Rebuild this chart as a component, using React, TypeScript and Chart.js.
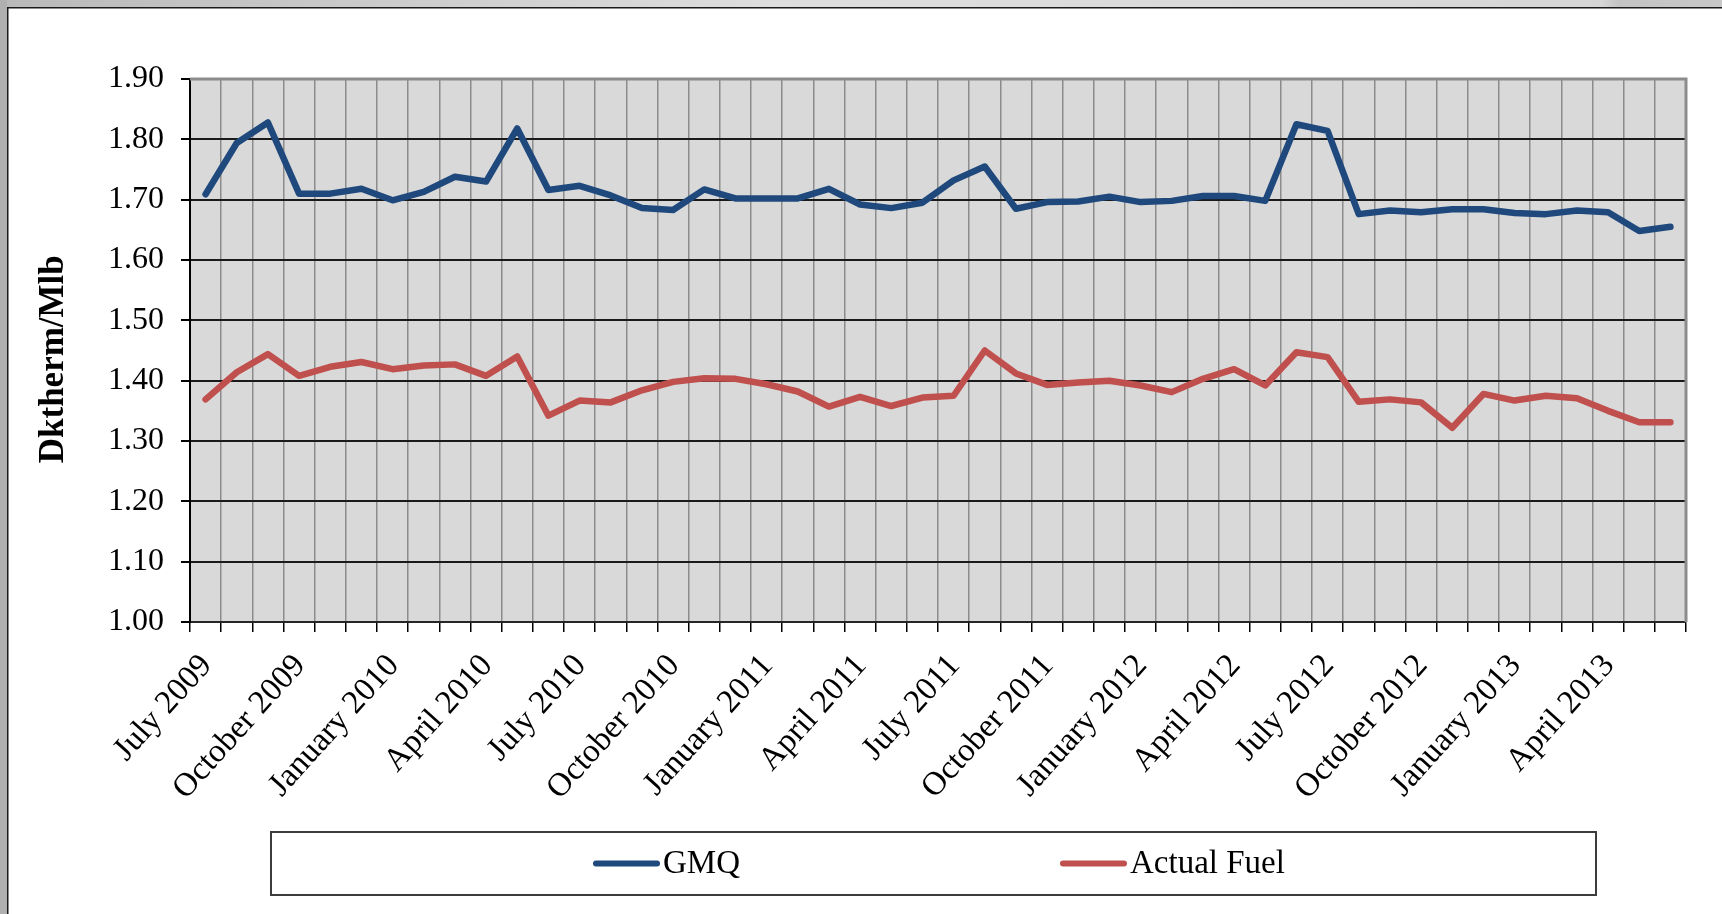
import React, { useEffect, useRef } from "react";
import { Chart, registerables } from "chart.js";

Chart.register(...registerables);

const categories = [
  "July 2009", "August 2009", "September 2009", "October 2009", "November 2009", "December 2009",
  "January 2010", "February 2010", "March 2010", "April 2010", "May 2010", "June 2010",
  "July 2010", "August 2010", "September 2010", "October 2010", "November 2010", "December 2010",
  "January 2011", "February 2011", "March 2011", "April 2011", "May 2011", "June 2011",
  "July 2011", "August 2011", "September 2011", "October 2011", "November 2011", "December 2011",
  "January 2012", "February 2012", "March 2012", "April 2012", "May 2012", "June 2012",
  "July 2012", "August 2012", "September 2012", "October 2012", "November 2012", "December 2012",
  "January 2013", "February 2013", "March 2013", "April 2013", "May 2013", "June 2013",
];

const gmq = [
  1.709, 1.794, 1.828, 1.710, 1.710, 1.718, 1.699, 1.713, 1.738, 1.730, 1.818, 1.716,
  1.723, 1.707, 1.686, 1.683, 1.717, 1.702, 1.702, 1.702, 1.718, 1.692, 1.686, 1.695,
  1.732, 1.755, 1.685, 1.696, 1.697, 1.705, 1.696, 1.698, 1.706, 1.706, 1.698, 1.825,
  1.814, 1.676, 1.682, 1.679, 1.684, 1.684, 1.678, 1.676, 1.682, 1.679, 1.648, 1.655,
];

const actualFuel = [
  1.369, 1.414, 1.444, 1.408, 1.423, 1.431, 1.419, 1.425, 1.427, 1.408, 1.440, 1.342,
  1.367, 1.364, 1.384, 1.398, 1.404, 1.403, 1.394, 1.382, 1.357, 1.373, 1.358, 1.372,
  1.375, 1.450, 1.412, 1.393, 1.397, 1.400, 1.392, 1.381, 1.403, 1.419, 1.392, 1.447,
  1.439, 1.365, 1.369, 1.364, 1.322, 1.378, 1.367, 1.375, 1.371, 1.350, 1.331, 1.331,
];

const seriesNames = ["GMQ", "Actual Fuel"];
const seriesColors = ["#1f497d", "#c0504d"];
const yMin = 1.0;
const yMax = 1.9;
const yStep = 0.1;
const labelEvery = 3;
const yTitle = "Dktherm/Mlb  ";

const W = 1722;
const H = 914;
const FONT = "'Liberation Serif', 'Times New Roman', serif";

const decorPlugin = {
  id: "decor",
  beforeDraw(chart: any) {
    const { ctx, chartArea } = chart;
    ctx.save();
    ctx.fillStyle = "#ffffff";
    ctx.fillRect(0, 0, chart.width, chart.height);
    const g = ctx.createLinearGradient(0, 0, chart.width, 0);
    g.addColorStop(0, "#b9b9b9");
    g.addColorStop(0.45, "#dedede");
    g.addColorStop(0.93, "#d6d6d6");
    g.addColorStop(0.94, "#c4c4c4");
    g.addColorStop(1, "#c8c8c8");
    ctx.fillStyle = g;
    ctx.fillRect(0, 0, chart.width, 7);
    ctx.fillStyle = "#b0b0b0";
    ctx.fillRect(0, 0, 7, chart.height);
    ctx.fillStyle = "#1a1a1a";
    ctx.fillRect(7, 7, chart.width - 7, 1.5);
    ctx.fillRect(7, 7, 1.5, chart.height - 7);
    ctx.fillStyle = "#d9d9d9";
    ctx.fillRect(chartArea.left, chartArea.top, chartArea.right - chartArea.left, chartArea.bottom - chartArea.top);
    ctx.restore();
  },
  beforeDatasetsDraw(chart: any) {
    const { ctx, chartArea } = chart;
    ctx.save();
    ctx.strokeStyle = "#8c8c8c";
    ctx.lineWidth = 3;
    ctx.beginPath();
    ctx.moveTo(chartArea.left, chartArea.top);
    ctx.lineTo(chartArea.right, chartArea.top);
    ctx.lineTo(chartArea.right, chartArea.bottom);
    ctx.stroke();
    ctx.restore();
  },
  afterDraw(chart: any) {
    const { ctx } = chart;
    const box = { left: 271, top: 832, right: 1596, bottom: 895 };
    ctx.save();
    ctx.fillStyle = "#ffffff";
    ctx.fillRect(box.left, box.top, box.right - box.left, box.bottom - box.top);
    ctx.strokeStyle = "#3c3c3c";
    ctx.lineWidth = 2;
    ctx.strokeRect(box.left, box.top, box.right - box.left, box.bottom - box.top);
    const cy = (box.top + box.bottom) / 2;
    const starts = [box.left + 323, box.left + 790];
    ctx.font = `33px ${FONT}`;
    ctx.textBaseline = "middle";
    ctx.textAlign = "left";
    chart.data.datasets.forEach((ds: any, i: number) => {
      const x0 = starts[i];
      ctx.strokeStyle = ds.borderColor;
      ctx.lineWidth = 6;
      ctx.lineCap = "round";
      ctx.beginPath();
      ctx.moveTo(x0 + 2, cy);
      ctx.lineTo(x0 + 63, cy);
      ctx.stroke();
      ctx.fillStyle = "#000000";
      ctx.fillText(ds.label, x0 + 69, cy + 1);
    });
    ctx.restore();
  },
};

export default function App() {
  const ref = useRef<HTMLCanvasElement | null>(null);

  useEffect(() => {
    const canvas = ref.current;
    if (!canvas) return;
    const chart = new Chart(canvas, {
      type: "line",
      data: {
        labels: categories,
        datasets: [
          {
            label: seriesNames[0],
            data: gmq,
            borderColor: seriesColors[0],
            backgroundColor: seriesColors[0],
            borderWidth: 6.5,
            pointRadius: 0,
            tension: 0,
            borderJoinStyle: "round",
            borderCapStyle: "round",
          },
          {
            label: seriesNames[1],
            data: actualFuel,
            borderColor: seriesColors[1],
            backgroundColor: seriesColors[1],
            borderWidth: 6.5,
            pointRadius: 0,
            tension: 0,
            borderJoinStyle: "round",
            borderCapStyle: "round",
          },
        ],
      },
      options: {
        animation: false,
        responsive: false,
        maintainAspectRatio: false,
        devicePixelRatio: 1,
        layout: { padding: { top: 79, right: 36, bottom: 102, left: 0 } },
        plugins: {
          legend: { display: false },
          tooltip: { enabled: false },
        },
        scales: {
          x: {
            type: "category",
            offset: true,
            grid: {
              offset: true,
              color: "#8c8c8c",
              lineWidth: 1.5,
              tickLength: 10,
              tickColor: "#000000",
              tickWidth: 1.5,
            },
            border: { color: "#262626", width: 2 },
            ticks: {
              autoSkip: false,
              maxRotation: 48,
              minRotation: 48,
              padding: 15,
              labelOffset: 1,
              color: "#000000",
              font: { family: FONT, size: 33 },
              callback: (_v: any, i: number) => (i % labelEvery === 0 ? categories[i] : ""),
            },
            afterFit: (s: any) => {
              s.height = 190;
            },
          },
          y: {
            min: yMin,
            max: yMax,
            ticks: {
              stepSize: yStep,
              padding: 17,
              color: "#000000",
              font: { family: FONT, size: 32 },
              callback: (v: any) => Number(v).toFixed(2),
            },
            grid: {
              color: (c: any) =>
                c.tick && Math.abs(c.tick.value - yMax) < 1e-6 ? "#8c8c8c" : "#1a1a1a",
              lineWidth: 2,
              tickLength: 9,
              tickColor: "#000000",
              tickWidth: 2,
            },
            border: { color: "#000000", width: 2 },
            title: {
              display: true,
              text: yTitle,
              color: "#000000",
              font: { family: FONT, size: 35, weight: "bold" },
              padding: { top: 33, bottom: 0 },
            },
            afterFit: (s: any) => {
              s.width = 190;
            },
          },
        },
      },
      plugins: [decorPlugin],
    } as any);
    return () => chart.destroy();
  }, []);

  return (
    <div style={{ position: "fixed", left: 0, top: 0, width: W, height: H, background: "#fff" }}>
      <canvas ref={ref} width={W} height={H} style={{ display: "block", width: W, height: H }} />
    </div>
  );
}
